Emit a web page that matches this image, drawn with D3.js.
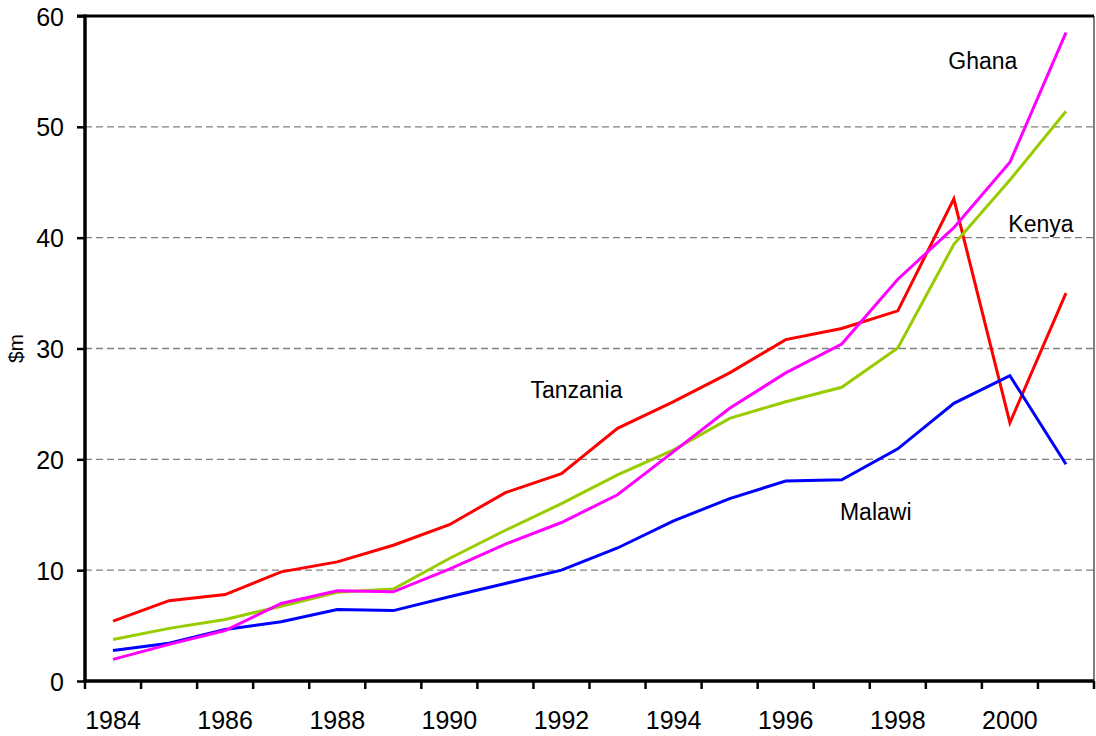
<!DOCTYPE html>
<html>
<head>
<meta charset="utf-8">
<script src="https://cdn.jsdelivr.net/npm/d3@7"></script>
<style>
  body { margin: 0; background: #fff; }
  text { font-family: "Liberation Sans", Arial, sans-serif; fill: #000; }
</style>
</head>
<body>
<svg width="1096" height="736"></svg>
<script>
// years along the x axis
var years = [1984,1985,1986,1987,1988,1989,1990,1991,1992,1993,1994,1995,1996,1997,1998,1999,2000,2001];

// values in $m
var tanzania = [5.4,7.25,7.8,9.85,10.75,12.25,14.1,17.0,18.7,22.8,25.2,27.8,30.8,31.8,33.4,43.5,23.3,35.0];
var malawi   = [2.75,3.4,4.65,5.35,6.45,6.35,7.6,8.8,10.0,12.0,14.45,16.45,18.05,18.15,20.95,25.05,27.55,19.55];
var kenya    = [3.75,4.75,5.55,6.75,8.0,8.3,11.05,13.6,16.0,18.6,20.85,23.7,25.2,26.5,30.05,39.4,45.2,51.4];
var ghana    = [1.95,3.3,4.55,7.0,8.15,8.05,10.1,12.35,14.3,16.8,20.7,24.6,27.8,30.4,36.25,40.9,46.8,58.5];

var yTicks = [0,10,20,30,40,50,60];

var seriesNames  = ["Tanzania","Malawi","Kenya","Ghana"];
var seriesValues = [tanzania, malawi, kenya, ghana];
var seriesColors = ["#ff0000","#0000ff","#99cc00","#ff00ff"];

var svg = d3.select("svg"),
    margin = {top: 16, right: 2, bottom: 55, left: 85},
    width = svg.attr("width") - margin.left - margin.right,
    height = svg.attr("height") - margin.top - margin.bottom,
    g = svg.append("g").attr("transform", "translate(" + margin.left + "," + margin.top + ")");

var x = d3.scaleBand().domain(years).range([0, width]).padding(0),
    y = d3.scaleLinear().domain([0, 60]).range([height, 0]);

function cx(yr) { return x(yr) + x.bandwidth() / 2; }

// dashed gridlines
g.selectAll(".grid")
  .data(yTicks.filter(function(t){ return t > 0 && t < 60; }))
  .enter().append("line")
  .attr("x1", 0).attr("x2", width)
  .attr("y1", function(d){ return y(d); })
  .attr("y2", function(d){ return y(d); })
  .attr("stroke", "#808080")
  .attr("stroke-width", 1.4)
  .attr("stroke-dasharray", "7,4");

// frame: thin right edge, thick top
g.append("line").attr("x1", width).attr("x2", width).attr("y1", 0).attr("y2", height)
  .attr("stroke", "#000").attr("stroke-width", 1);
g.append("line").attr("x1", -8).attr("x2", width).attr("y1", y(60)).attr("y2", y(60))
  .attr("stroke", "#000").attr("stroke-width", 3);

// y axis
var yAxis = g.append("g")
  .call(d3.axisLeft(y).tickValues(yTicks).tickSize(8).tickPadding(13));
yAxis.select(".domain").remove();
yAxis.selectAll(".tick line").attr("stroke", "#000").attr("stroke-width", 2.5);
yAxis.selectAll(".tick text").style("font-size", "25px").attr("dy", "0.36em");
g.append("line").attr("x1", 0).attr("x2", 0).attr("y1", -1.5).attr("y2", height + 1.5)
  .attr("stroke", "#000").attr("stroke-width", 3.5);

// x axis: ticks on band edges, labels at band centres for even years
var edges = years.map(function(d){ return x(d); }).concat([width]);
var xg = g.append("g").attr("transform", "translate(0," + height + ")");
xg.selectAll(".xt").data(edges).enter().append("line")
  .attr("x1", function(d){ return d; }).attr("x2", function(d){ return d; })
  .attr("y1", 0).attr("y2", 8)
  .attr("stroke", "#000").attr("stroke-width", 2.5);
xg.selectAll(".xl").data(years.filter(function(d){ return d % 2 === 0; }))
  .enter().append("text")
  .attr("x", function(d){ return cx(d); })
  .attr("y", 48)
  .attr("text-anchor", "middle")
  .style("font-size", "25px")
  .text(function(d){ return d; });
xg.append("line").attr("x1", 0).attr("x2", width).attr("y1", 0).attr("y2", 0)
  .attr("stroke", "#000").attr("stroke-width", 3.5);

// y label
svg.append("text")
  .attr("transform", "translate(23," + (margin.top + y(30)) + ") rotate(-90)")
  .attr("text-anchor", "middle")
  .style("font-size", "21px")
  .text("$m");

// lines
var line = d3.line()
  .x(function(d, i){ return cx(years[i]); })
  .y(function(d){ return y(d); });

g.selectAll(".series")
  .data(seriesValues)
  .enter().append("path")
  .attr("fill", "none")
  .attr("stroke", function(d, i){ return seriesColors[i]; })
  .attr("stroke-width", 3)
  .attr("stroke-linejoin", "miter")
  .attr("d", line);

// series labels
var labels = [
  {name: "Ghana",    year: 1999, value: 55.2, dx: 29},
  {name: "Kenya",    year: 2001, value: 40.5, dx: -25},
  {name: "Tanzania", year: 1992, value: 25.5, dx: 15},
  {name: "Malawi",   year: 1997, value: 14.5, dx: 34}
];
g.selectAll(".lbl").data(labels).enter().append("text")
  .attr("x", function(d){ return cx(d.year) + d.dx; })
  .attr("y", function(d){ return y(d.value); })
  .attr("text-anchor", "middle")
  .style("font-size", "23px")
  .text(function(d){ return d.name; });
</script>
</body>
</html>
